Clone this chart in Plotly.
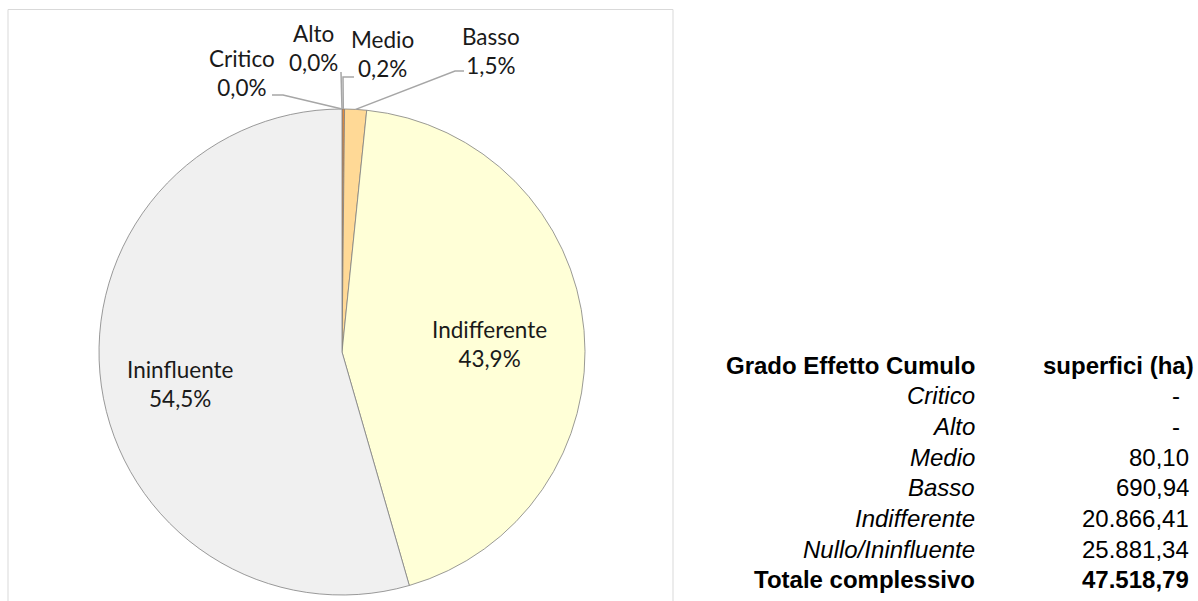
import math
import plotly.graph_objects as go

W, H = 1198, 601

# ---- data ----
categories = ["Critico", "Alto", "Medio", "Basso", "Indifferente", "Ininfluente"]
table_labels = ["Critico", "Alto", "Medio", "Basso", "Indifferente", "Nullo/Ininfluente"]
superfici_ha = [0.0, 0.0, 80.10, 690.94, 20866.41, 25881.34]
colors = ["#C0504D", "#F08A3C", "#E08A40", "#FFD996", "#FFFFD7", "#F0F0F0"]

total = sum(superfici_ha)


def px(x):
    return x / W


def py(y):
    return 1 - y / H


def it_num(v):
    if v == 0:
        return "-"
    s = f"{v:,.2f}"
    return s.replace(",", "X").replace(".", ",").replace("X", ".")


def pct(v):
    return f"{v / total * 100:.1f}".replace(".", ",") + "%"


# pie geometry (pixels)
cx, cy, r = 342, 352, 243

fig = go.Figure()
fig.add_trace(go.Pie(
    labels=categories,
    values=superfici_ha,
    sort=False,
    direction="clockwise",
    rotation=0,
    marker=dict(colors=colors, line=dict(color="#808080", width=0.8)),
    textinfo="none",
    hoverinfo="label+percent",
    showlegend=False,
    domain=dict(x=[px(cx - r), px(cx + r)], y=[py(cy + r), py(cy - r)]),
))

label_font = dict(family="Lato, Calibri, sans-serif", size=22.5, color="#1a1a1a")

# label positions (pixel centres of the two-line labels)
label_pos = {
    "Critico": (242, 73),
    "Alto": (313, 48),
    "Medio": (382, 54),
    "Basso": (491, 51),
    "Indifferente": (489, 344),
    "Ininfluente": (180, 384),
}
for cat, v in zip(categories, superfici_ha):
    x, y = label_pos[cat]
    fig.add_annotation(x=px(x), y=py(y), xref="paper", yref="paper",
                       text=f"{cat}<br>{pct(v)}", showarrow=False,
                       font=label_font, align="center",
                       xanchor="center", yanchor="middle")

# leader lines from labels to slice mid-angle on the pie edge
cum = 0.0
mid_angles = {}
for cat, v in zip(categories, superfici_ha):
    mid_angles[cat] = (cum + v / 2) / total * 2 * math.pi
    cum += v


def edge(cat):
    a = mid_angles[cat]
    return cx + r * math.sin(a), cy - r * math.cos(a)


leader_start = {
    "Critico": [(272, 95), (283, 95)],
    "Alto": [(341, 72)],
    "Medio": [(354, 77), (343, 77)],
    "Basso": [(464, 71), (455, 71)],
}
for cat, pts in leader_start.items():
    ex, ey = edge(cat)
    allp = pts + [(ex, ey)]
    path = "M " + " L ".join(f"{px(a):.5f},{py(b):.5f}" for a, b in allp)
    fig.add_shape(type="path", path=path, xref="paper", yref="paper",
                  line=dict(color="#A6A6A6", width=1.5))

# chart area border
fig.add_shape(type="rect", xref="paper", yref="paper",
              x0=px(8), x1=px(673), y0=py(640), y1=py(9.5),
              line=dict(color="#D9D9D9", width=1), layer="below")

# ---- table ----
tfont = dict(family="Liberation Sans, Arial, sans-serif", size=24, color="#000000")
col1_right, col2_right, head2_right, dash_right = 977, 1191, 1196, 1182
row_y0, row_dy = 365, 30.7
fig.add_annotation(x=px(col1_right), y=py(row_y0), xref="paper", yref="paper",
                   text="<b>Grado Effetto Cumulo</b>", showarrow=False,
                   xanchor="right", yanchor="middle", font=tfont)
fig.add_annotation(x=px(head2_right), y=py(row_y0), xref="paper", yref="paper",
                   text="<b>superfici (ha)</b>", showarrow=False,
                   xanchor="right", yanchor="middle", font=tfont)
for i, (lab, v) in enumerate(zip(table_labels, superfici_ha)):
    y = row_y0 + row_dy * (i + 1)
    fig.add_annotation(x=px(col1_right), y=py(y), xref="paper", yref="paper",
                       text=f"<i>{lab}</i>", showarrow=False,
                       xanchor="right", yanchor="middle", font=tfont)
    xr = dash_right if v == 0 else col2_right
    fig.add_annotation(x=px(xr), y=py(y), xref="paper", yref="paper",
                       text=it_num(v), showarrow=False,
                       xanchor="right", yanchor="middle", font=tfont)
y = row_y0 + row_dy * (len(table_labels) + 1)
fig.add_annotation(x=px(col1_right), y=py(y), xref="paper", yref="paper",
                   text="<b>Totale complessivo</b>", showarrow=False,
                   xanchor="right", yanchor="middle", font=tfont)
fig.add_annotation(x=px(col2_right), y=py(y), xref="paper", yref="paper",
                   text=f"<b>{it_num(total)}</b>", showarrow=False,
                   xanchor="right", yanchor="middle", font=tfont)

fig.update_layout(
    width=W, height=H,
    margin=dict(l=0, r=0, t=0, b=0),
    paper_bgcolor="white", plot_bgcolor="white",
    separators=",.",
)

fig.write_html(
    "out.html",
    config={"displayModeBar": False},
    post_script="document.body.style.margin='0';document.body.style.overflow='hidden';",
)
